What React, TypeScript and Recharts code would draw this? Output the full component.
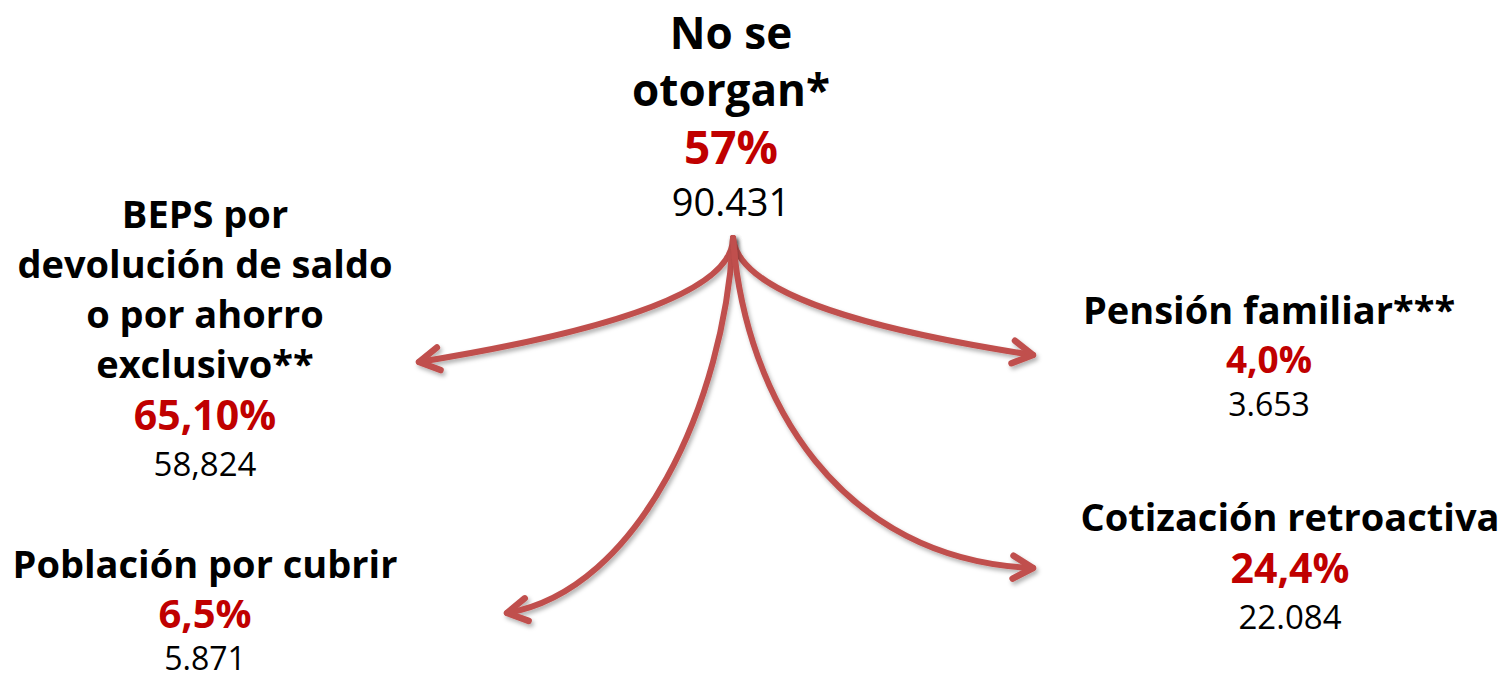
import React from 'react';
import { ScatterChart, Scatter, XAxis, YAxis } from 'recharts';

const W = 1502;
const H = 679;

// ---- content ----
const labelLines: string[][] = [
  ['No se', 'otorgan*'],
  ['BEPS por', 'devolución de saldo', 'o por ahorro', 'exclusivo**'],
  ['Población por cubrir'],
  ['Pensión familiar***'],
  ['Cotización retroactiva'],
];
const percentLabels = ['57%', '65,10%', '6,5%', '4,0%', '24,4%'];
const countLabels = ['90.431', '58,824', '5.871', '3.653', '22.084'];

// ---- layout (data units; the axes map 1 unit to 1 px) ----
const nodeCenterX = [731, 205, 205, 1269, 1290];
const labelBaseY = [49, 228, 578, 324, 531];
const percentBaseY = [164, 430, 628, 373, 583];
const countBaseY = [216, 476, 670, 416, 629];

// arrows: start, control 1, control 2, tip
const arrowPoints: number[][][] = [
  [[733, 238], [733, 287], [628, 328], [419, 362]],
  [[733, 238], [725, 400], [640, 590], [507, 613]],
  [[733, 238], [738, 287], [838, 325], [1033, 355]],
  [[733, 238], [745, 400], [840, 560], [1033, 568]],
];

// ---- styles ----
const FONT = "'Open Sans', 'Noto Sans', sans-serif";
const labelSize = [44, 38, 38, 38, 38];
const labelLineHeight = [57, 50, 50, 50, 50];
const percentSize = [46, 41, 40, 37, 41];
const countSize = [38, 33, 32, 32, 33];
const RED = '#C00000';
const ARROW = '#C0504D';

const labelData = labelLines.map((lines, i) => ({ x: nodeCenterX[i], y: labelBaseY[i], i, lines }));
const percentData = percentLabels.map((t, i) => ({ x: nodeCenterX[i], y: percentBaseY[i], i, t }));
const countData = countLabels.map((t, i) => ({ x: nodeCenterX[i], y: countBaseY[i], i, t }));
const arrowData = arrowPoints.map((pts) => pts.map(([x, y]) => ({ x, y })));

const LabelShape = (props: any) => {
  const { cx, cy, payload } = props;
  const i = payload.i;
  return (
    <text
      x={cx}
      y={cy}
      textAnchor="middle"
      fontFamily={FONT}
      fontWeight={700}
      fontSize={labelSize[i]}
      fill="#000"
    >
      {payload.lines.map((l: string, k: number) => (
        <tspan key={k} x={cx} dy={k === 0 ? 0 : labelLineHeight[i]}>
          {l}
        </tspan>
      ))}
    </text>
  );
};

const PercentShape = (props: any) => {
  const { cx, cy, payload } = props;
  return (
    <text x={cx} y={cy} textAnchor="middle" fontFamily={FONT} fontWeight={700} fontSize={percentSize[payload.i]} fill={RED}>
      {payload.t}
    </text>
  );
};

const CountShape = (props: any) => {
  const { cx, cy, payload } = props;
  return (
    <text x={cx} y={cy} textAnchor="middle" fontFamily={FONT} fontWeight={400} fontSize={countSize[payload.i]} fill="#000">
      {payload.t}
    </text>
  );
};

const Empty = () => <g />;

const makeArrow = (idx: number) => (props: any) => {
  const pts = props.points;
  if (!pts || pts.length < 4) return <g />;
  const [p0, p1, p2, p3] = pts;
  const d = `M${p0.x},${p0.y} C${p1.x},${p1.y} ${p2.x},${p2.y} ${p3.x},${p3.y}`;
  const ang = Math.atan2(p3.y - p2.y, p3.x - p2.x);
  const L = 23;
  const a = 0.52;
  const b1 = { x: p3.x - L * Math.cos(ang - a), y: p3.y - L * Math.sin(ang - a) };
  const b2 = { x: p3.x - L * Math.cos(ang + a), y: p3.y - L * Math.sin(ang + a) };
  const fid = `arrowShadow${idx}`;
  return (
    <g>
      <defs>
        <filter id={fid} x="-20%" y="-20%" width="140%" height="140%">
          <feDropShadow dx="2" dy="3" stdDeviation="2" floodColor="#000" floodOpacity="0.3" />
        </filter>
      </defs>
      <g filter={`url(#${fid})`}>
        <path d={d} fill="none" stroke={ARROW} strokeWidth={6} strokeLinecap="round" />
        <path
          d={`M${b1.x},${b1.y} L${p3.x},${p3.y} L${b2.x},${b2.y}`}
          fill="none"
          stroke={ARROW}
          strokeWidth={6.5}
          strokeLinecap="round"
          strokeLinejoin="round"
        />
      </g>
    </g>
  );
};

export default function App() {
  return (
    <div style={{ position: 'absolute', left: 0, top: 0, width: W, height: H, background: '#fff' }}>
      <ScatterChart width={W} height={H} margin={{ top: 0, right: 0, bottom: 0, left: 0 }}>
        <XAxis type="number" dataKey="x" domain={[0, W]} allowDataOverflow hide />
        <YAxis type="number" dataKey="y" domain={[0, H]} allowDataOverflow reversed hide />
        {arrowData.map((pts, i) => (
          <Scatter
            key={`arrow${i}`}
            data={pts}
            line={makeArrow(i)}
            lineType="joint"
            shape={Empty}
            isAnimationActive={false}
          />
        ))}
        <Scatter data={labelData} shape={LabelShape} isAnimationActive={false} />
        <Scatter data={percentData} shape={PercentShape} isAnimationActive={false} />
        <Scatter data={countData} shape={CountShape} isAnimationActive={false} />
      </ScatterChart>
    </div>
  );
}
